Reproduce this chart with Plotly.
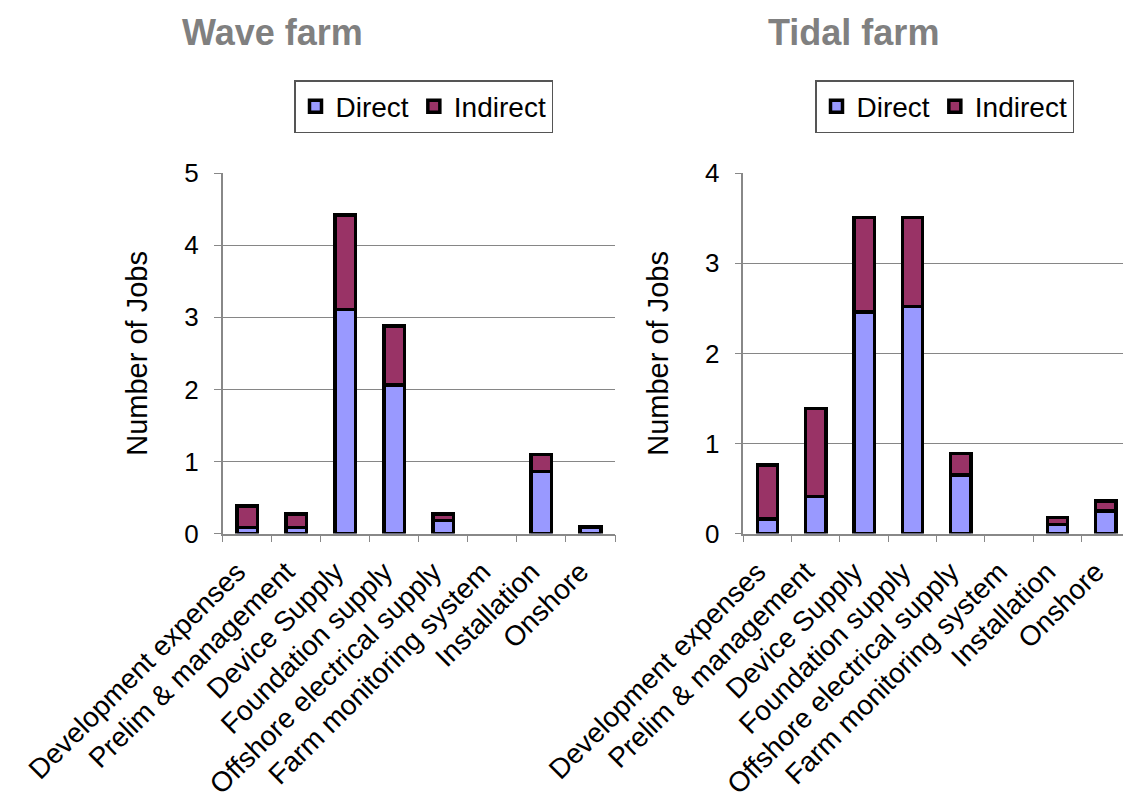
import plotly.graph_objects as go

categories = ["Development expenses", "Prelim & management", "Device Supply",
              "Foundation supply", "Offshore electrical supply",
              "Farm monitoring system", "Installation", "Onshore"]

wave_direct = [0.08, 0.08, 3.11, 2.06, 0.18, 0.0, 0.86, 0.08]
wave_indirect = [0.30, 0.19, 1.31, 0.82, 0.09, 0.0, 0.24, 0.02]

tidal_direct = [0.16, 0.41, 2.46, 2.52, 0.65, 0.0, 0.10, 0.25]
tidal_indirect = [0.60, 0.98, 1.05, 0.99, 0.24, 0.0, 0.08, 0.11]

wave_yticks = [0, 1, 2, 3, 4, 5]
tidal_yticks = [0, 1, 2, 3, 4]

DIRECT = "#9999FF"
INDIRECT = "#993366"
FONT = "Liberation Sans, Arial, sans-serif"

# page body has an 8px margin: work in page coordinates and shift
OFF = 8
W, H = 1131 - OFF, 803 - OFF


def px(x):
    return (x - OFF) / W


def py(y):
    return 1 - (y - OFF) / H


fig = go.Figure()


def add(vals, name, color, xa, ya, legend):
    fig.add_trace(go.Bar(
        x=categories, y=vals, name=name, xaxis=xa, yaxis=ya, legend=legend,
        marker=dict(color=color,
                    line=dict(color="black", width=[3.5 if v > 0 else 0 for v in vals])),
    ))


add(wave_direct, "Direct", DIRECT, "x", "y", "legend")
add(wave_indirect, "Indirect", INDIRECT, "x", "y", "legend")
add(tidal_direct, "Direct", DIRECT, "x2", "y2", "legend2")
add(tidal_indirect, "Indirect", INDIRECT, "x2", "y2", "legend2")

ydom = [py(533.5), py(173.3)]

xcommon = dict(
    type="category", tickangle=-45, tickson="boundaries", ticks="outside",
    ticklen=7, tickcolor="#888", showline=True, linecolor="#888", linewidth=1.5,
    showgrid=False, tickfont=dict(family=FONT, size=28, color="black"),
    automargin=False, ticklabelstandoff=9, ticklabelshift=-10,
)
ycommon = dict(
    ticks="outside", ticklen=7, tickcolor="#888", showline=True, linecolor="#888",
    linewidth=1.5, showgrid=True, gridcolor="#868686", gridwidth=1,
    zeroline=False, tickfont=dict(family=FONT, size=26, color="black"),
    title=dict(text="Number of Jobs", font=dict(family=FONT, size=29, color="black"),
               standoff=28),
    automargin=False, domain=ydom, dtick=1, ticklabelstandoff=10,
)

legcommon = dict(orientation="h", xanchor="left", yanchor="top",
                 bordercolor="#555", borderwidth=1.5,
                 font=dict(family=FONT, size=28, color="black"), itemwidth=30,
                 traceorder="normal")

fig.update_layout(
    width=W, height=H,
    margin=dict(l=0, r=0, t=0, b=0),
    paper_bgcolor="white", plot_bgcolor="white",
    barmode="stack", bargap=0.58,
    font=dict(family=FONT, color="black"),
    xaxis=dict(domain=[px(222.7), px(615)], anchor="y", **xcommon),
    yaxis=dict(anchor="x", range=[0, 5], tickvals=wave_yticks, **ycommon),
    xaxis2=dict(domain=[px(743.3), px(1130)], anchor="y2", **xcommon),
    yaxis2=dict(anchor="x2", range=[0, 4], tickvals=tidal_yticks, **ycommon),
    legend=dict(x=px(294), y=py(80), **legcommon),
    legend2=dict(x=px(815), y=py(80), **legcommon),
    annotations=[
        dict(text="<b>Wave farm</b>", x=px(180), y=py(33), xref="paper",
             yref="paper", xanchor="left", yanchor="middle", showarrow=False,
             font=dict(family=FONT, size=36, color="#808080")),
        dict(text="<b>Tidal farm</b>", x=px(766), y=py(33), xref="paper",
             yref="paper", xanchor="left", yanchor="middle", showarrow=False,
             font=dict(family=FONT, size=36, color="#808080")),
    ],
)

fig.write_html("out.html")
